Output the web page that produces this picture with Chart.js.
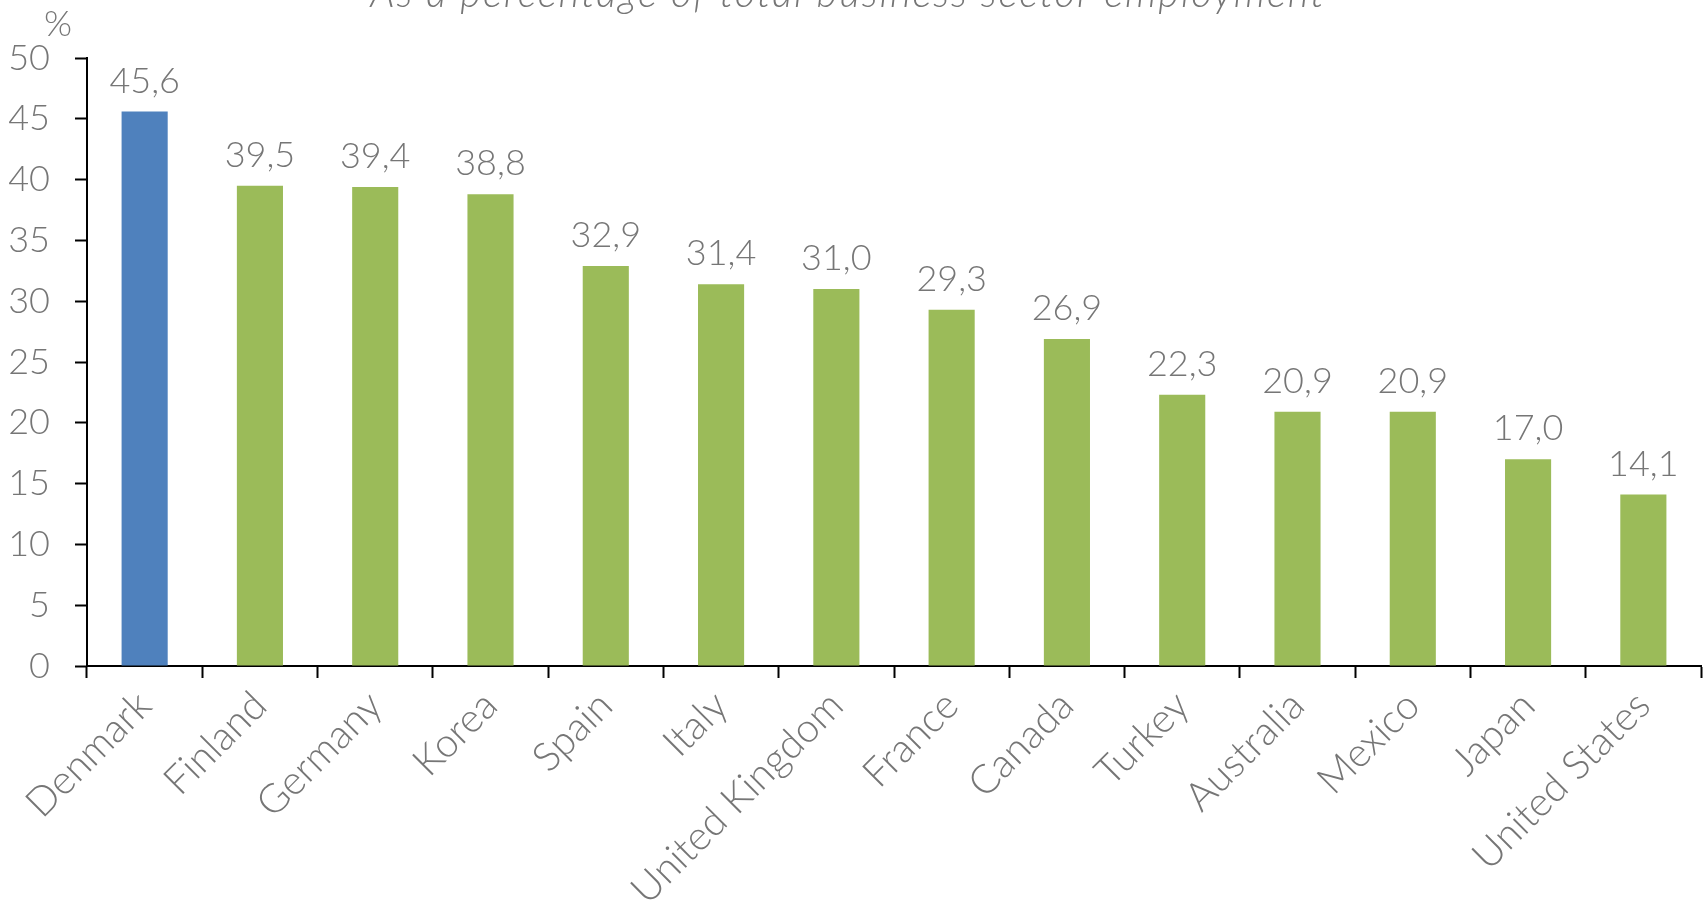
<!DOCTYPE html>
<html>
<head>
<meta charset="utf-8">
<title>Business sector employment</title>
<script src="https://cdn.jsdelivr.net/npm/chart.js@4.4.1/dist/chart.umd.min.js"></script>
<style>
  html, body { margin: 0; padding: 0; background: #ffffff; }
  #wrap { width: 1708px; height: 909px; }
</style>
</head>
<body>
<div id="wrap"><canvas id="shareChart" width="1708" height="909"></canvas></div>
<script>
// Data
const countries = [
  "Denmark", "Finland", "Germany", "Korea", "Spain", "Italy", "United Kingdom",
  "France", "Canada", "Turkey", "Australia", "Mexico", "Japan", "United States"
];
const shares = [45.6, 39.5, 39.4, 38.8, 32.9, 31.4, 31.0, 29.3, 26.9, 22.3, 20.9, 20.9, 17.0, 14.1];
const yTicks = [0, 5, 10, 15, 20, 25, 30, 35, 40, 45, 50];
const highlighted = "Denmark";
const subtitle = "As a percentage of total business sector employment";
const unitLabel = "%";

const TEXT_GREY = "#767676";
const BLUE = "#4f81bd";
const GREEN = "#9bbb59";
const FONT_FAMILY = "Lato, 'Noto Sans', sans-serif";

// Format a value with a decimal comma
function formatValue(v) {
  return v.toFixed(1).replace(".", ",");
}

// Value labels above each bar
const valueLabels = {
  id: "valueLabels",
  afterDatasetsDraw(chart) {
    const ctx = chart.ctx;
    const meta = chart.getDatasetMeta(0);
    ctx.save();
    ctx.font = "300 36px " + FONT_FAMILY;
    ctx.fillStyle = TEXT_GREY;
    ctx.textAlign = "center";
    ctx.textBaseline = "alphabetic";
    meta.data.forEach((bar, i) => {
      ctx.fillText(formatValue(shares[i]), bar.x, bar.y - 19);
    });
    ctx.restore();
  },
};

// Subtitle and unit label
const headerText = {
  id: "headerText",
  afterDraw(chart) {
    const ctx = chart.ctx;
    ctx.save();
    ctx.fillStyle = TEXT_GREY;
    ctx.textAlign = "center";
    ctx.textBaseline = "alphabetic";
    ctx.font = "italic 300 40px " + FONT_FAMILY;
    ctx.letterSpacing = "2px";
    ctx.fillText(subtitle, 848, 7);
    ctx.letterSpacing = "0px";
    ctx.textBaseline = "middle";
    ctx.font = "300 36px " + FONT_FAMILY;
    ctx.fillText(unitLabel, 58, 24);
    ctx.restore();
  },
};

const ctx = document.getElementById("shareChart").getContext("2d");
const shareChart = new Chart(ctx, {
  type: "bar",
  data: {
    labels: countries,
    datasets: [
      {
        data: shares,
        backgroundColor: countries.map((c) => (c === highlighted ? BLUE : GREEN)),
        borderWidth: 0,
        categoryPercentage: 1.0,
        barPercentage: 0.4,
      },
    ],
  },
  options: {
    responsive: false,
    animation: false,
    devicePixelRatio: 1,
    layout: { padding: { top: 58, right: 7, bottom: 0, left: 0 } },
    plugins: {
      legend: { display: false },
      tooltip: { enabled: false },
    },
    scales: {
      x: {
        offset: true,
        grid: {
          offset: true,
          drawOnChartArea: false,
          drawTicks: true,
          tickLength: 12,
          tickWidth: 2,
          tickColor: "#000000",
        },
        border: { display: true, color: "#000000", width: 2 },
        ticks: {
          autoSkip: false,
          maxRotation: 45,
          minRotation: 45,
          padding: 4,
          color: TEXT_GREY,
          font: { family: FONT_FAMILY, size: 40, weight: "300" },
        },
        afterFit(scale) {
          scale.height = 243;
        },
      },
      y: {
        min: 0,
        max: 50,
        afterBuildTicks(scale) {
          scale.ticks = yTicks.map((v) => ({ value: v }));
        },
        grid: {
          drawOnChartArea: false,
          drawTicks: true,
          tickLength: 12,
          tickWidth: 2,
          tickColor: "#000000",
        },
        border: { display: true, color: "#000000", width: 2 },
        ticks: {
          padding: 25,
          color: TEXT_GREY,
          font: { family: FONT_FAMILY, size: 36, weight: "300" },
        },
        afterFit(scale) {
          scale.width = 87;
        },
      },
    },
  },
  plugins: [valueLabels, headerText],
});
</script>
</body>
</html>
